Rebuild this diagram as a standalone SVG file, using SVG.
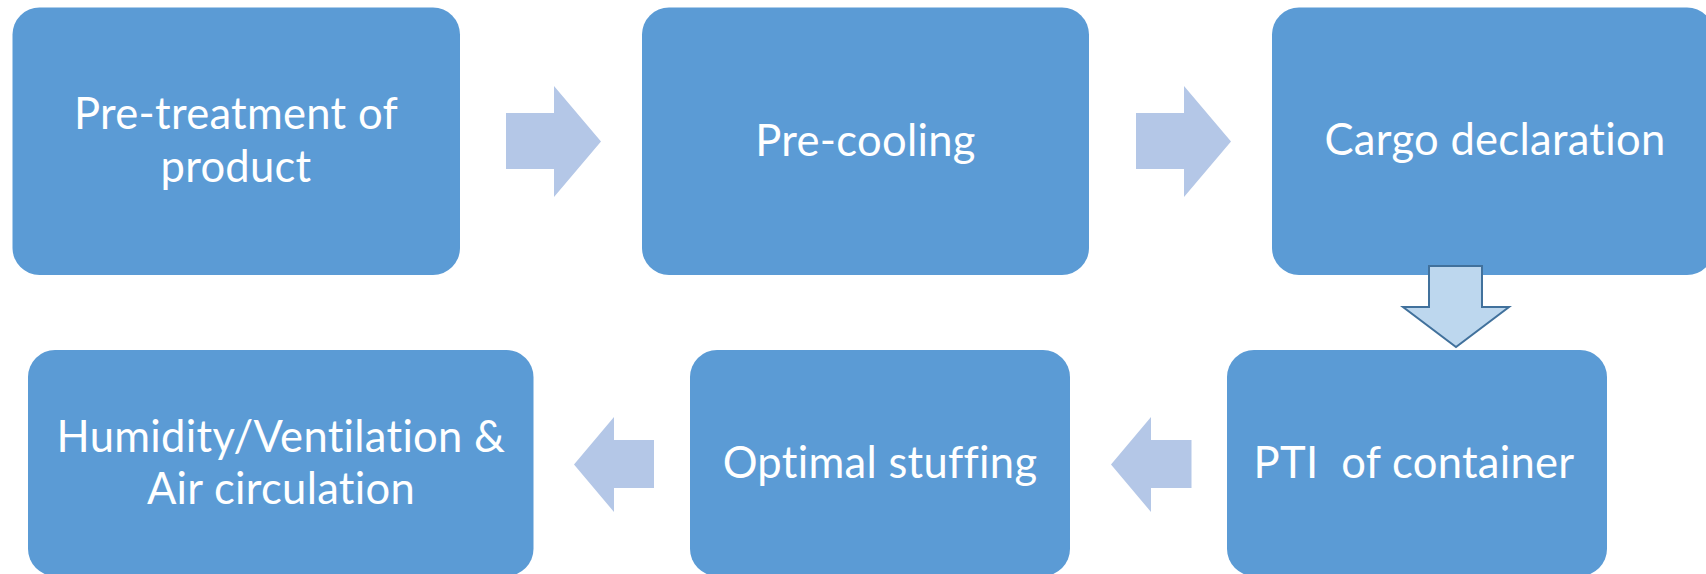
<svg xmlns="http://www.w3.org/2000/svg" width="1706" height="574" viewBox="0 0 1706 574">
<style>
.box{fill:#5B9BD5}
.lbl{font-family:Lato,"Noto Sans","Liberation Sans",sans-serif;font-size:43.5px;letter-spacing:0.3px;fill:#FFFFFF;text-anchor:middle;white-space:pre;font-variant-ligatures:none;font-feature-settings:"liga" 0,"clig" 0,"calt" 0,"dlig" 0}
.arr{fill:#B4C7E7}
.darr{fill:#BDD7EE;stroke:#41719C;stroke-width:2}
</style>
<rect width="1706" height="574" fill="#FFFFFF"/>
<g id="node-pretreatment">
<rect class="box" x="12.5" y="7.5" width="447.5" height="267.5" rx="27" ry="27"/>
<text class="lbl" x="236" y="129">Pre-treatment of</text>
<text class="lbl" x="236" y="182">product</text>
</g>
<g id="node-precooling">
<rect class="box" x="642" y="7.5" width="447" height="267.5" rx="27" ry="27"/>
<text class="lbl" x="865.5" y="156">Pre-cooling</text>
</g>
<g id="node-cargo">
<rect class="box" x="1272" y="7.5" width="442" height="267.5" rx="27" ry="27"/>
<text class="lbl" x="1495" y="155">Cargo declaration</text>
</g>
<g id="node-pti">
<rect class="box" x="1227" y="350" width="380" height="226" rx="27" ry="27"/>
<text class="lbl" x="1414" y="478" xml:space="preserve">PTI  of container</text>
</g>
<g id="node-stuffing">
<rect class="box" x="690" y="350" width="380" height="226" rx="27" ry="27"/>
<text class="lbl" x="880" y="478">Optimal stuffing</text>
</g>
<g id="node-humidity">
<rect class="box" x="28" y="350" width="505.5" height="226" rx="27" ry="27"/>
<text class="lbl" x="281" y="452">Humidity/Ventilation &amp;</text>
<text class="lbl" x="281" y="504">Air circulation</text>
</g>
<g id="connectors">
<polygon class="arr" points="506,113 554,113 554,86 601,141.5 554,197 554,169 506,169"/>
<polygon class="arr" points="1136,113 1184,113 1184,86 1231,141.5 1184,197 1184,169 1136,169"/>
<polygon class="darr" points="1429,266 1482,266 1482,307 1509,307 1456,347 1403,307 1429,307"/>
<polygon class="arr" points="1191.5,440 1151,440 1151,417 1111,464.5 1151,512 1151,488 1191.5,488"/>
<polygon class="arr" points="654,440 614,440 614,417 574,464.5 614,512 614,488 654,488"/>
</g>
</svg>
